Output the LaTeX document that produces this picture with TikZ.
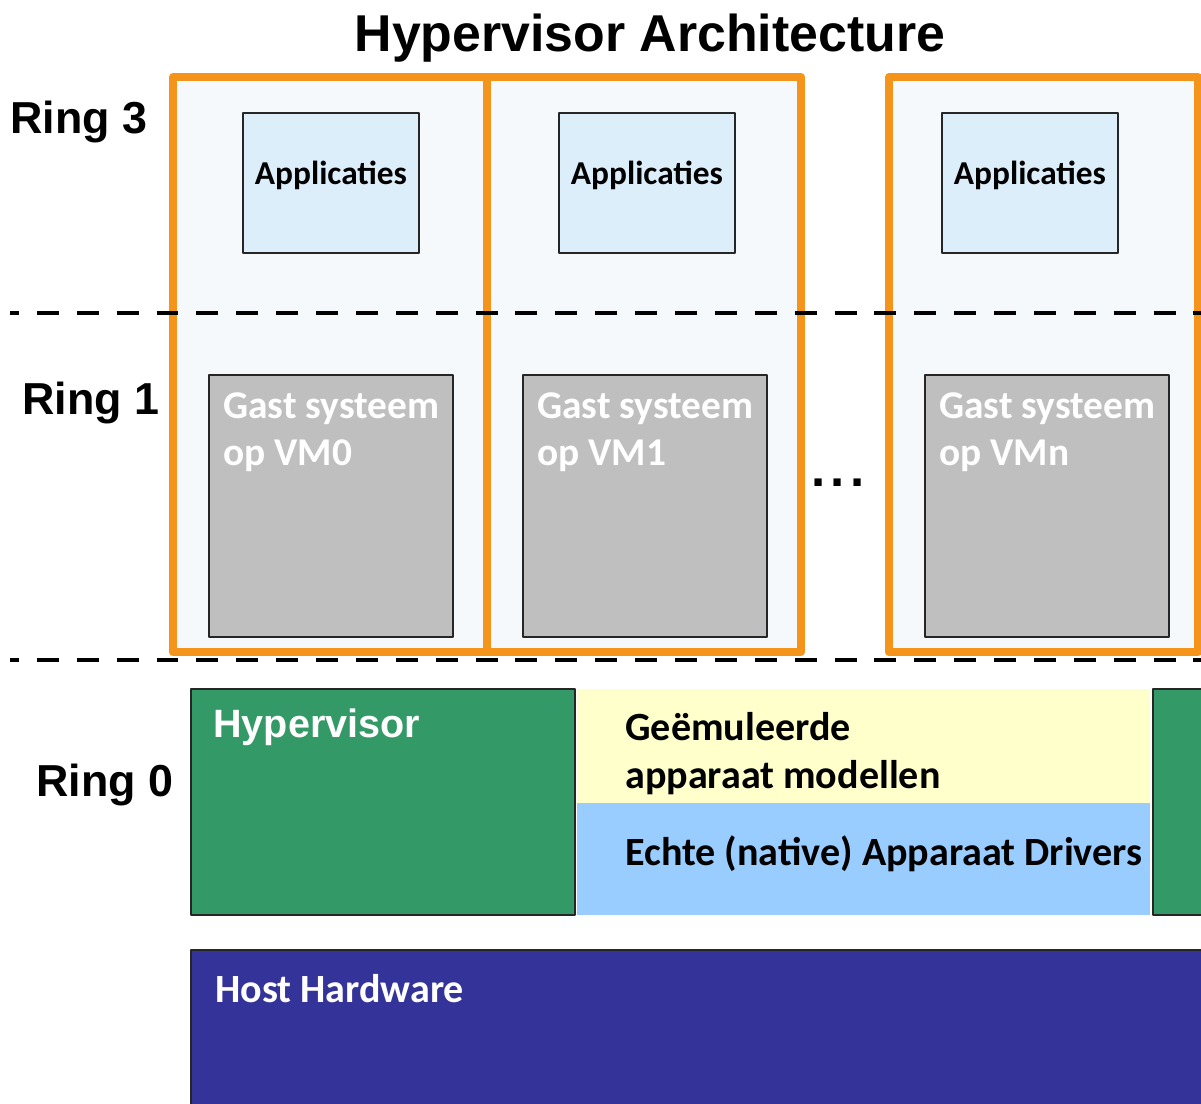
\documentclass[tikz,border=0pt]{standalone}
\usepackage{fontspec}
\setmainfont{Carlito}
\newfontfamily\arialfont{Liberation Sans}
\definecolor{vmorange}{HTML}{F5941A}
\definecolor{vmfill}{HTML}{F5F9FC}
\definecolor{appfill}{HTML}{DDEEFB}
\definecolor{gastgray}{HTML}{BFBFBF}
\definecolor{hvgreen}{HTML}{339966}
\definecolor{emuyellow}{HTML}{FFFFCC}
\definecolor{drvblue}{HTML}{99CCFF}
\definecolor{hwblue}{HTML}{333399}
\tikzset{
	vmframe/.style={draw=vmorange, line width=4.5pt, fill=vmfill},
	boxline/.style={draw=black!85, line width=1.1pt},
	ringline/.style={line width=2.8pt, dash pattern=on 12.5pt off 10.2pt, dash phase=7.4pt},
	ringlabel/.style={anchor=base west, inner sep=0pt, font=\arialfont\bfseries\fontsize{25.5}{25.5}\selectfont},
	blocktext/.style={anchor=base west, inner sep=0pt, align=left, font=\bfseries\fontsize{22.8}{27.3}\selectfont},
}
\begin{document}
\begin{tikzpicture}[x=0.02cm, y=-0.02cm, line join=round]
	\useasboundingbox (0,0) rectangle (1201,1104);
	\node[anchor=base, inner sep=0pt, font=\arialfont\bfseries\fontsize{29.5}{29.5}\selectfont] (title) at (650,52) {Hypervisor Architecture};
	% virtual machines
	\foreach \n/\fl/\fr/\al/\gl in {0/173/487/243/209, 1/487/801/559/523, n/889/1198/942/925}
	{
		\draw[vmframe] (\fl,77) rectangle (\fr,652);
		\ifx\n1 \fill[white] (513,107) rectangle (712,272); \fi
		\draw[boxline, fill=appfill] (\al,113) rectangle ++(176,140);
		\draw[boxline, fill=gastgray] (\gl,375) rectangle ++(244,262);
		\node[anchor=base, inner sep=0pt, font=\bfseries\fontsize{19}{19}\selectfont] (app\n) at ({\al+88},185) {Applicaties};
		\node[blocktext, text=white, font=\bfseries\fontsize{22.4}{27.3}\selectfont] (gast\n) at ({\gl+14},466) {Gast systeem\\op VM\n};
	}
	\node[anchor=base, inner sep=0pt, font=\arialfont\bfseries\fontsize{29}{29}\selectfont] (dots) at (838,487) {.\kern3pt.\kern3pt.};
	% ring borders
	\path (10,313) coordinate (r3a) (1201,313) coordinate (r3b)
		(10,660) coordinate (r1a) (1201,660) coordinate (r1b);
	\draw[ringline] (r3a) -- (r3b);
	\draw[ringline] (r1a) -- (r1b);
	% hypervisor
	\draw[boxline, fill=hvgreen] (191,689) rectangle (575,915);
	\draw[boxline, fill=hvgreen] (1153,689) rectangle (1215,915);
	\fill[emuyellow] (577,689) rectangle (1150,803);
	\fill[drvblue] (577,803) rectangle (1150,915);
	\node[anchor=base west, inner sep=0pt, text=white, font=\arialfont\bfseries\fontsize{22.5}{22.5}\selectfont] (hv) at (213,738) {Hypervisor};
	\node[blocktext] (emu) at (625,788) {Geëmuleerde\\apparaat modellen};
	\node[blocktext] (drv) at (625,866) {Echte (native) Apparaat Drivers};
	% hardware
	\draw[boxline, fill=hwblue] (191,950) rectangle (1215,1120);
	\node[blocktext, text=white] (hw) at (215,1002) {Host Hardware};
	% rings
	\node[ringlabel] (ring3) at (10,134) {Ring 3};
	\node[ringlabel] (ring1) at (22,415) {Ring 1};
	\node[ringlabel] (ring0) at (36,797) {Ring 0};
\end{tikzpicture}
\end{document}
